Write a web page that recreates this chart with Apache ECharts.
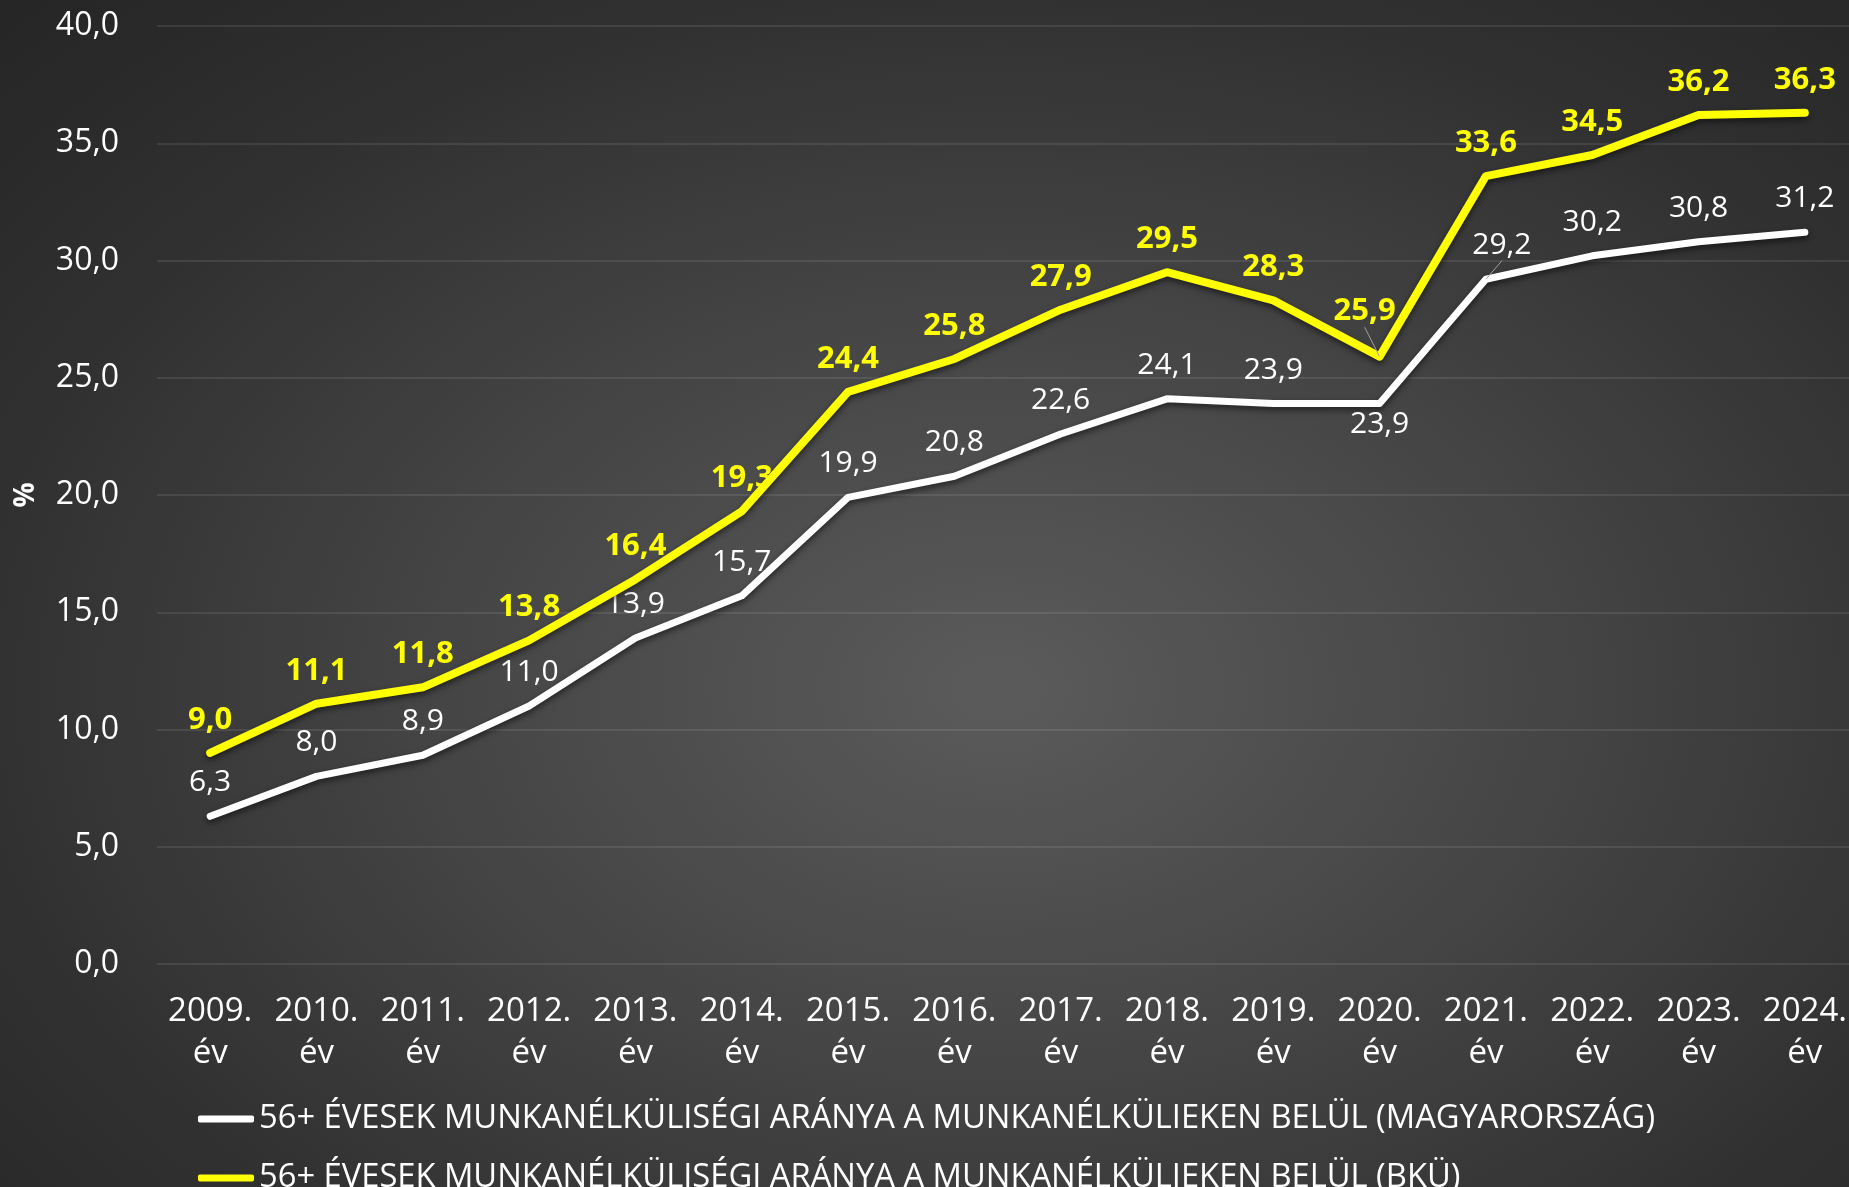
<!DOCTYPE html>
<html>
<head>
<meta charset="utf-8">
<script src="https://cdn.jsdelivr.net/npm/echarts@6/dist/echarts.min.js"></script>
<style>
  html, body { margin: 0; padding: 0; }
  body {
    width: 1849px; height: 1187px; overflow: hidden;
    background: radial-gradient(ellipse 75% 80% at 54% 58%, #5b5b5b 0%, #454545 40%, #303030 75%, #262626 100%);
  }
  #chart { width: 1849px; height: 1187px; }
</style>
</head>
<body>
<div id="chart"></div>
<script>
// adatok
var years = ['2009. év', '2010. év', '2011. év', '2012. év', '2013. év', '2014. év', '2015. év', '2016. év',
  '2017. év', '2018. év', '2019. év', '2020. év', '2021. év', '2022. év', '2023. év', '2024. év']
var huValues = [6.3, 8.0, 8.9, 11.0, 13.9, 15.7, 19.9, 20.8, 22.6, 24.1, 23.9, 23.9, 29.2, 30.2, 30.8, 31.2]
var bkuValues = [9.0, 11.1, 11.8, 13.8, 16.4, 19.3, 24.4, 25.8, 27.9, 29.5, 28.3, 25.9, 33.6, 34.5, 36.2, 36.3]
var seriesNames = [
  '56+ ÉVESEK MUNKANÉLKÜLISÉGI ARÁNYA A MUNKANÉLKÜLIEKEN BELÜL (MAGYARORSZÁG)',
  '56+ ÉVESEK MUNKANÉLKÜLISÉGI ARÁNYA A MUNKANÉLKÜLIEKEN BELÜL (BKÜ)'
]
var yTicks = { min: 0, max: 40, interval: 5 }

var font = '"Open Sans", "Noto Sans", sans-serif'
function fmt(v) { return Number(v).toFixed(1).replace('.', ',') }

var chart = echarts.init(document.getElementById('chart'), null, { renderer: 'canvas' })

var guide = { show: true, lineStyle: { color: '#a0a0a0', width: 1 } }

// magyarországi sor: 2020 címke alul, 2021 címke jobbra tolva
var huData = huValues.map(function (v, i) {
  if (i === 11) return { value: v, label: { position: 'bottom', distance: 5 } }
  if (i === 12) return { value: v, labelLine: guide }
  return v
})
// BKÜ sor: 2020 címke balra fel tolva
var bkuData = bkuValues.map(function (v, i) {
  if (i === 11) return { value: v, labelLine: guide }
  return v
})

// jelmagyarázat, két külön sorban
function legendRow(name, top) {
  return {
    left: 198,
    top: top,
    padding: 0,
    icon: 'roundRect',
    itemWidth: 56,
    itemHeight: 7,
    textStyle: { color: '#ffffff', fontSize: 32.7, lineHeight: 40 },
    data: [name]
  }
}

chart.setOption({
  backgroundColor: 'transparent',
  textStyle: { fontFamily: font },
  grid: { left: 157, width: 1701, top: 26, height: 938, outerBoundsMode: 'none', containLabel: false },
  xAxis: {
    type: 'category',
    data: years,
    boundaryGap: true,
    axisLine: { show: false },
    axisTick: { show: false },
    axisLabel: {
      color: '#ffffff',
      fontSize: 33,
      lineHeight: 42,
      margin: 27,
      interval: 0,
      formatter: function (val) { return val.replace(' ', '\n') }
    }
  },
  yAxis: {
    type: 'value',
    min: yTicks.min,
    max: yTicks.max,
    interval: yTicks.interval,
    name: '%',
    nameLocation: 'middle',
    nameRotate: 90,
    nameGap: 117,
    nameTextStyle: { color: '#ffffff', fontSize: 28, fontWeight: 'bold' },
    axisLine: { show: false },
    axisTick: { show: false },
    axisLabel: { color: '#ffffff', fontSize: 32, margin: 38, formatter: fmt },
    splitLine: { lineStyle: { color: 'rgba(255,255,255,0.12)', width: 1.5 } }
  },
  legend: [legendRow(seriesNames[0], 1099), legendRow(seriesNames[1], 1158)],
  series: [
    {
      name: seriesNames[0],
      type: 'line',
      data: huData,
      symbol: 'circle',
      symbolSize: 1,
      showSymbol: true,
      lineStyle: { color: '#ffffff', width: 7, cap: 'round', join: 'round', shadowBlur: 6, shadowColor: 'rgba(0,0,0,0.55)', shadowOffsetY: 3 },
      itemStyle: { color: '#ffffff' },
      label: {
        show: true,
        position: 'top',
        distance: 18,
        color: '#ffffff',
        fontSize: 30,
        formatter: function (p) { return fmt(p.value) }
      },
      labelLine: { show: false },
      labelLayout: function (p) {
        if (p.dataIndex === 12) return { dx: 16, dy: 0 }
      },
      z: 2
    },
    {
      name: seriesNames[1],
      type: 'line',
      data: bkuData,
      symbol: 'circle',
      symbolSize: 1,
      showSymbol: true,
      lineStyle: { color: '#ffff00', width: 8, cap: 'round', join: 'round', shadowBlur: 6, shadowColor: 'rgba(0,0,0,0.55)', shadowOffsetY: 3 },
      itemStyle: { color: '#ffff00' },
      label: {
        show: true,
        position: 'top',
        distance: 17,
        color: '#ffff00',
        fontSize: 31,
        fontWeight: 'bold',
        formatter: function (p) { return fmt(p.value) }
      },
      labelLine: { show: false },
      labelLayout: function (p) {
        if (p.dataIndex === 11) return { dx: -15, dy: -12 }
      },
      z: 3
    }
  ]
})
</script>
</body>
</html>
